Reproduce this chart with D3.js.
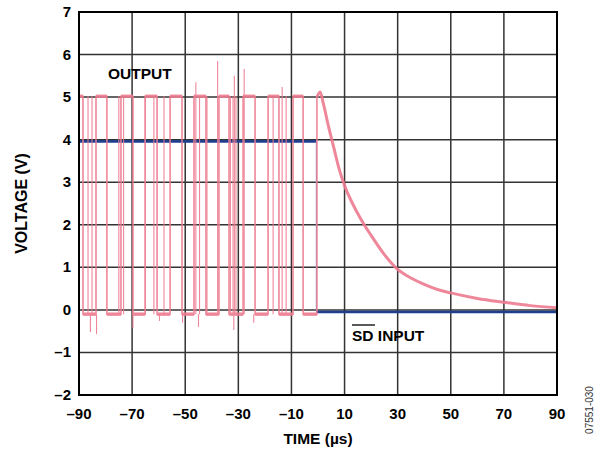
<!DOCTYPE html>
<html>
<head>
<meta charset="utf-8">
<script src="https://cdn.jsdelivr.net/npm/d3@7"></script>
<style>
  body { margin: 0; background: #fff; }
  svg text { font-family: "Liberation Sans", Arial, sans-serif; }
</style>
</head>
<body>
<div id="chart"></div>
<script>
// axis ticks
var xTicks = [-90, -70, -50, -30, -10, 10, 30, 50, 70, 90];
var yTicks = [-2, -1, 0, 1, 2, 3, 4, 5, 6, 7];

// OUTPUT square wave: edge times (µs), level starts high at -90
var outEdges = [-88.5, -83.6, -79.5, -74.2, -69.7, -65.1, -60.6, -55.7, -51.2, -46.7,
                -42.2, -37.3, -33.5, -28.2, -23.7, -18.8, -14.7, -9.4, -5.6, -0.4];
var outHigh = 5.02, outLow = -0.1;
// narrow glitches (time) drawn as thin full swing lines
var glitchT = [-86.6, -85.1, -75.0, -73.2, -65.0, -61.8, -58.0, -44.6, -41.8, -33.0, -32.0, -30.9, -16.9, -12.0];
var spikeT = [-37.8, -31.5, -27.8, -13.5, -46.0];
var spikeV = [5.85, 5.5, 5.66, 5.24, 5.35];
var dipT = [-85.7, -83.4, -69.7, -59.7, -51.0, -45.0, -31.7, -24.2];
var dipV = [-0.52, -0.57, -0.42, -0.26, -0.3, -0.4, -0.47, -0.3];

// OUTPUT decay after shutdown
var decayT = [-0.4, 0.8, 2, 4, 6, 8, 10, 13, 16, 20, 25, 30, 35, 40, 45, 50, 60, 70, 80, 90];
var decayV = [5.0, 5.12, 4.85, 4.3, 3.8, 3.3, 2.92, 2.5, 2.15, 1.75, 1.3, 0.95, 0.75, 0.6, 0.48, 0.4, 0.27, 0.18, 0.1, 0.05];

// SD input
var sdT = [-90, -0.6, -0.6, 90];
var sdV = [3.96, 3.96, -0.05, -0.05];

var W = 600, H = 452;
var m = {left: 79, top: 12, right: 43, bottom: 57};
var pw = W - m.left - m.right, ph = H - m.top - m.bottom;

var svg = d3.select("#chart").append("svg").attr("width", W).attr("height", H);
var g = svg.append("g").attr("transform", "translate(" + m.left + "," + m.top + ")");

var x = d3.scaleLinear().domain([-90, 90]).range([0, pw]);
var y = d3.scaleLinear().domain([-2, 7]).range([ph, 0]);

// grid
g.append("g").selectAll("line").data(xTicks.slice(1, -1)).enter().append("line")
  .attr("x1", function(d) { return x(d); }).attr("x2", function(d) { return x(d); })
  .attr("y1", 0).attr("y2", ph).attr("stroke", "#333").attr("stroke-width", 1.5);
g.append("g").selectAll("line").data(yTicks.slice(1, -1)).enter().append("line")
  .attr("y1", function(d) { return y(d); }).attr("y2", function(d) { return y(d); })
  .attr("x1", 0).attr("x2", pw).attr("stroke", "#333").attr("stroke-width", 1.5);

var line = d3.line().x(function(d) { return x(d[0]); }).y(function(d) { return y(d[1]); });

// build output square wave points
var pts = [], lvl = outHigh, t0 = -90;
pts.push([t0, lvl]);
outEdges.forEach(function(t) {
  pts.push([t, lvl]);
  lvl = (lvl === outHigh) ? outLow : outHigh;
  pts.push([t, lvl]);
});
var pink = "#ee7b90";

// SD input (blue)
g.append("path").datum(d3.zip(sdT.slice(0, 2), sdV.slice(0, 2)))
  .attr("d", line).attr("fill", "none").attr("stroke", "#1d3f8e").attr("stroke-width", 2.6);
g.append("path").datum(d3.zip(sdT.slice(1, 3), sdV.slice(1, 3)))
  .attr("d", line).attr("fill", "none").attr("stroke", "#7f9bd6").attr("stroke-width", 1.2);
g.append("path").datum(d3.zip(sdT.slice(2), sdV.slice(2)))
  .attr("d", line).attr("fill", "none").attr("stroke", "#1d3f8e").attr("stroke-width", 2.6);

var pinkG = g.append("g").attr("opacity", 0.9);
pinkG.append("path").datum(pts).attr("d", line).attr("fill", "none")
  .attr("stroke", pink).attr("stroke-width", 1.6);
// plateau noise band
pinkG.selectAll(".band").data(d3.range(0, pts.length - 1, 2)).enter().append("path")
  .attr("d", function(i) { return line([pts[i], pts[i + 1]]); })
  .attr("stroke", pink).attr("stroke-width", 3.4).attr("fill", "none");
pinkG.selectAll(".gl").data(glitchT).enter().append("line")
  .attr("x1", function(d) { return x(d); }).attr("x2", function(d) { return x(d); })
  .attr("y1", y(outLow)).attr("y2", y(outHigh)).attr("stroke", pink).attr("stroke-width", 1.1);
pinkG.selectAll(".sp").data(d3.zip(spikeT, spikeV)).enter().append("line")
  .attr("x1", function(d) { return x(d[0]); }).attr("x2", function(d) { return x(d[0]); })
  .attr("y1", y(outLow)).attr("y2", function(d) { return y(d[1]); }).attr("stroke", pink).attr("stroke-width", 1.1);
pinkG.selectAll(".dp").data(d3.zip(dipT, dipV)).enter().append("line")
  .attr("x1", function(d) { return x(d[0]); }).attr("x2", function(d) { return x(d[0]); })
  .attr("y1", y(outLow)).attr("y2", function(d) { return y(d[1]); }).attr("stroke", pink).attr("stroke-width", 1.1);
pinkG.append("path").datum(d3.zip(decayT, decayV))
  .attr("d", d3.line().curve(d3.curveMonotoneX).x(function(d) { return x(d[0]); }).y(function(d) { return y(d[1]); }))
  .attr("fill", "none").attr("stroke", pink).attr("stroke-width", 3);

// frame
g.append("rect").attr("width", pw).attr("height", ph).attr("fill", "none")
  .attr("stroke", "#000").attr("stroke-width", 2);

// tick labels
g.selectAll(".xt").data(xTicks).enter().append("text")
  .attr("x", function(d) { return x(d); }).attr("y", ph + 24)
  .attr("text-anchor", "middle").attr("font-size", 15).attr("font-weight", "bold")
  .text(function(d) { return d < 0 ? "\u2013" + (-d) : d; });
g.selectAll(".yt").data(yTicks).enter().append("text")
  .attr("x", -8).attr("y", function(d) { return y(d) + 5; })
  .attr("text-anchor", "end").attr("font-size", 15).attr("font-weight", "bold")
  .text(function(d) { return d < 0 ? "\u2013" + (-d) : d; });

// axis titles
svg.append("text").attr("x", m.left + pw / 2).attr("y", 444).attr("text-anchor", "middle")
  .attr("font-size", 15.5).attr("font-weight", "bold").text("TIME (\u00b5s)");
svg.append("text").attr("transform", "translate(27," + (m.top + ph / 2) + ") rotate(-90)")
  .attr("text-anchor", "middle").attr("font-size", 16).attr("font-weight", "bold").text("VOLTAGE (V)");

// annotations
svg.append("text").attr("x", 108).attr("y", 79).attr("font-size", 15.5).attr("font-weight", "bold").text("OUTPUT");
svg.append("text").attr("x", 352).attr("y", 341).attr("font-size", 15.5).attr("font-weight", "bold").text("SD INPUT");
svg.append("line").attr("x1", 352).attr("x2", 375).attr("y1", 325).attr("y2", 325)
  .attr("stroke", "#000").attr("stroke-width", 1.3);

svg.append("text").attr("transform", "translate(593,410) rotate(-90)")
  .attr("text-anchor", "middle").attr("font-size", 10).attr("fill", "#333").text("07551-030");
</script>
</body>
</html>
